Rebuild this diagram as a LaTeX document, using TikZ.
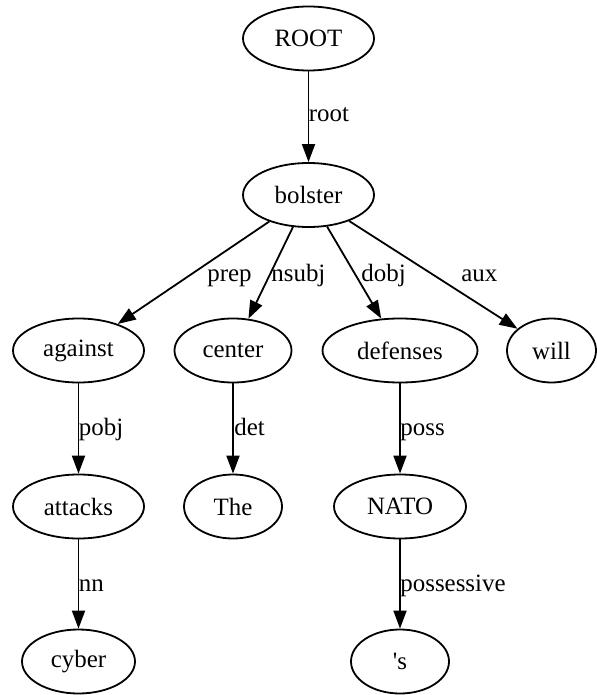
\documentclass[tikz,border=0pt]{standalone}
\usepackage{fontspec}
\setmainfont{Liberation Serif}[Ligatures=TeXOff]
\usetikzlibrary{shapes.geometric,arrows.meta}
\begin{document}
\begin{tikzpicture}[x=0.5pt,y=-0.5pt,
  word/.style={draw,ellipse,line width=0.9pt,inner sep=0pt,
    minimum height=32pt,font=\fontsize{12.46}{15}\selectfont},
  rel/.style={anchor=base west,inner sep=0pt,font=\fontsize{12.46}{15}\selectfont},
  dep/.style={line width=0.9pt,-{Triangle[length=9pt,width=6.5pt]}}]
\useasboundingbox (0,0) rectangle (597,695);

% tokens of the dependency tree
\node[word,minimum width=65.5pt] (root)     at (308.5,38.5)  {ROOT};
\node[word,minimum width=65.5pt] (bolster)  at (308.5,195)   {bolster};
\node[word,minimum width=65.5pt] (against)  at (78.5,350.5)  {against};
\node[word,minimum width=58.5pt] (center)   at (233,350.5)   {center};
\node[word,minimum width=77.5pt] (defenses) at (400,350.5)   {defenses};
\node[word,minimum width=44.5pt] (will)     at (551.5,350.5) {will};
\node[word,minimum width=65.5pt] (attacks)  at (78.5,506.5)  {attacks};
\node[word,minimum width=49pt]   (the)      at (233,506.5)   {The};
\node[word,minimum width=66pt]   (nato)     at (400,506.5)   {NATO};
\node[word,minimum width=56.5pt] (cyber)    at (78.5,661.5)  {cyber};
\node[word,minimum width=49pt]   (poss)     at (400,661.5)   {'s};

% dependency arcs
\draw[dep] (root) -- (bolster);
\draw[dep] (bolster) -- (against);
\draw[dep] (bolster) -- (center);
\draw[dep] (bolster) -- (defenses);
\draw[dep] (bolster) -- (will);
\draw[dep] (against) -- (attacks);
\draw[dep] (center) -- (the);
\draw[dep] (defenses) -- (nato);
\draw[dep] (attacks) -- (cyber);
\draw[dep] (nato) -- (poss);

% relation labels
\node[rel] (lroot)  at (308.5,122) {root};
\node[rel] (lprep)  at (207,281)   {prep};
\node[rel] (lnsubj) at (271,281)   {nsubj};
\node[rel] (ldobj)  at (361,281)   {dobj};
\node[rel] (laux)   at (461,281)   {aux};
\node[rel] (lpobj)  at (78.5,435)  {pobj};
\node[rel] (ldet)   at (234,435)   {det};
\node[rel] (lposs)  at (400,435)   {poss};
\node[rel] (lnn)    at (78.5,591)  {nn};
\node[rel] (lpsv)   at (400,591)   {possessive};
\end{tikzpicture}
\end{document}
